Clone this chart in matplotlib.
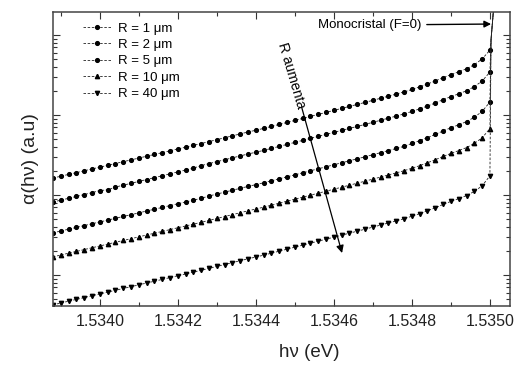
"""Absorption edge alpha(hv) vs photon energy for several grain sizes R (log axis)."""
import matplotlib

matplotlib.use("Agg")
import matplotlib.pyplot as plt
from matplotlib.ticker import MultipleLocator, FormatStrFormatter, NullFormatter, LogLocator
import numpy as np

plt.rcParams["font.family"] = ["Liberation Sans", "DejaVu Sans"]

# photon energy grid (eV)
energy = [1.53388, 1.53390, 1.53392, 1.53394, 1.53396, 1.53398, 1.53400, 1.53402,
          1.53404, 1.53406, 1.53408, 1.53410, 1.53412, 1.53414, 1.53416, 1.53418,
          1.53420, 1.53422, 1.53424, 1.53426, 1.53428, 1.53430, 1.53432, 1.53434,
          1.53436, 1.53438, 1.53440, 1.53442, 1.53444, 1.53446, 1.53448, 1.53450,
          1.53452, 1.53454, 1.53456, 1.53458, 1.53460, 1.53462, 1.53464, 1.53466,
          1.53468, 1.53470, 1.53472, 1.53474, 1.53476, 1.53478, 1.53480, 1.53482,
          1.53484, 1.53486, 1.53488, 1.53490, 1.53492, 1.53494, 1.53496, 1.53498,
          1.53500]

# log10 of alpha (arbitrary units)
log_r1 = [2.212, 2.235, 2.258, 2.280, 2.303, 2.326, 2.348, 2.371, 2.394, 2.417,
          2.439, 2.462, 2.485, 2.507, 2.530, 2.553, 2.576, 2.598, 2.621, 2.644,
          2.668, 2.692, 2.716, 2.740, 2.764, 2.788, 2.810, 2.833, 2.858, 2.883,
          2.908, 2.933, 2.958, 2.983, 3.008, 3.033, 3.058, 3.083, 3.108, 3.133,
          3.158, 3.184, 3.210, 3.236, 3.262, 3.289, 3.320, 3.352, 3.388, 3.426,
          3.467, 3.505, 3.540, 3.578, 3.630, 3.700, 3.812]
log_r2 = [1.912, 1.936, 1.959, 1.982, 2.006, 2.030, 2.056, 2.064, 2.099, 2.123,
          2.146, 2.170, 2.194, 2.217, 2.241, 2.265, 2.289, 2.312, 2.336, 2.368,
          2.393, 2.417, 2.441, 2.465, 2.489, 2.513, 2.535, 2.558, 2.583, 2.608,
          2.633, 2.658, 2.683, 2.708, 2.733, 2.758, 2.783, 2.808, 2.833, 2.858,
          2.883, 2.909, 2.935, 2.961, 2.987, 3.014, 3.045, 3.077, 3.113, 3.151,
          3.192, 3.230, 3.265, 3.303, 3.355, 3.425, 3.537]
log_r5 = [1.527, 1.550, 1.573, 1.595, 1.618, 1.641, 1.663, 1.686, 1.709, 1.732,
          1.754, 1.777, 1.800, 1.822, 1.845, 1.868, 1.891, 1.913, 1.936, 1.959,
          1.988, 2.012, 2.036, 2.060, 2.084, 2.108, 2.130, 2.153, 2.178, 2.203,
          2.228, 2.253, 2.278, 2.303, 2.328, 2.353, 2.378, 2.403, 2.428, 2.453,
          2.478, 2.504, 2.530, 2.556, 2.582, 2.609, 2.645, 2.680, 2.718, 2.758,
          2.801, 2.841, 2.878, 2.918, 2.972, 3.045, 3.162]
log_r10 = [1.227, 1.250, 1.273, 1.295, 1.318, 1.341, 1.363, 1.386, 1.409, 1.432,
           1.454, 1.477, 1.500, 1.522, 1.545, 1.568, 1.591, 1.613, 1.636, 1.659,
           1.683, 1.707, 1.731, 1.755, 1.779, 1.803, 1.825, 1.848, 1.873, 1.898,
           1.923, 1.948, 1.973, 1.998, 2.023, 2.048, 2.073, 2.098, 2.123, 2.148,
           2.173, 2.199, 2.225, 2.251, 2.277, 2.304, 2.335, 2.367, 2.403, 2.441,
           2.482, 2.520, 2.555, 2.593, 2.645, 2.715, 2.830]
log_r40 = [0.627, 0.650, 0.673, 0.695, 0.718, 0.741, 0.763, 0.786, 0.809, 0.832,
           0.854, 0.877, 0.900, 0.922, 0.945, 0.968, 0.991, 1.013, 1.036, 1.059,
           1.083, 1.107, 1.131, 1.155, 1.179, 1.203, 1.225, 1.248, 1.273, 1.298,
           1.323, 1.348, 1.373, 1.398, 1.423, 1.448, 1.473, 1.498, 1.523, 1.548,
           1.573, 1.599, 1.625, 1.651, 1.677, 1.704, 1.735, 1.767, 1.803, 1.841,
           1.882, 1.920, 1.955, 1.993, 2.045, 2.115, 2.240]

# near-vertical rise at the band edge (monocrystal limit)
edge_energy = [1.535003, 1.535014]
edge_log = [3.95, 4.60]

labels = ["R = 1 μm", "R = 2 μm", "R = 5 μm", "R = 10 μm", "R = 40 μm"]
markers = ["o", "o", "o", "^", "v"]
series = [log_r1, log_r2, log_r5, log_r10, log_r40]

fig = plt.figure(figsize=(5.16, 3.65), dpi=100)
ax = fig.add_axes([0.1027, 0.1616, 0.8853, 0.8054])

for vals, lab, mk in zip(series, labels, markers):
    x = energy + edge_energy
    y = 10 ** np.array(vals + edge_log)
    ax.plot(x, y, ls=(0, (3, 2)), lw=0.6, color="#222222", marker=mk,
            ms=2.7 if mk == "o" else 3.1, markevery=list(range(len(energy))),
            mfc="black", mec="black", label=lab)

ax.set_yscale("log")
ax.set_xlim(1.53388, 1.535051)
ax.set_ylim(10 ** 0.6125, 10 ** 4.2875)

ax.xaxis.set_major_locator(MultipleLocator(0.0002))
ax.xaxis.set_minor_locator(MultipleLocator(0.0001))
ax.xaxis.set_major_formatter(FormatStrFormatter("%.4f"))
ax.yaxis.set_major_locator(LogLocator(base=10))
ax.yaxis.set_minor_locator(LogLocator(base=10, subs=np.arange(2, 10)))
ax.yaxis.set_major_formatter(NullFormatter())
ax.yaxis.set_minor_formatter(NullFormatter())
ax.tick_params(which="both", direction="in", top=True, right=True, width=0.8,
               colors="#333333")
ax.tick_params(which="major", length=5, labelsize=11.5, pad=6, labelcolor="#222222")
ax.tick_params(which="minor", length=3)
for sp in ax.spines.values():
    sp.set_linewidth(1.1)
    sp.set_color("#444444")

ax.set_xlabel("hν (eV)", fontsize=13.5, va="center", color="#222222")
ax.xaxis.set_label_coords(0.562, -0.157)
ax.set_ylabel("α(hν) (a.u)", fontsize=14, va="center", color="#222222")
ax.yaxis.set_label_coords(-0.05, 0.5)

leg = ax.legend(loc="upper left", bbox_to_anchor=(0.065, 0.965), frameon=False,
                fontsize=9.5, handlelength=2.2, handletextpad=0.45,
                labelspacing=0.32, borderpad=0, borderaxespad=0)

# grain size arrow
ax.annotate("", xy=(1.534621, 10 ** 1.275), xytext=(1.534518, 10 ** 3.0875),
            arrowprops=dict(arrowstyle="-|>", color="black", lw=0.9,
                            mutation_scale=11, shrinkA=0, shrinkB=0))
ax.text(1.534492, 10 ** 3.4875, "R aumenta", rotation=-73.6, rotation_mode="anchor",
        ha="center", va="center", fontsize=10)

# monocrystal label
ax.annotate("Monocristal (F=0)", xy=(1.535003, 10 ** 4.1375),
            xytext=(1.534559, 10 ** 4.125), va="center", ha="left", fontsize=9.5,
            arrowprops=dict(arrowstyle="-|>", color="black", lw=1.0,
                            mutation_scale=10, shrinkB=0))

fig.savefig("out.png", dpi=100)
